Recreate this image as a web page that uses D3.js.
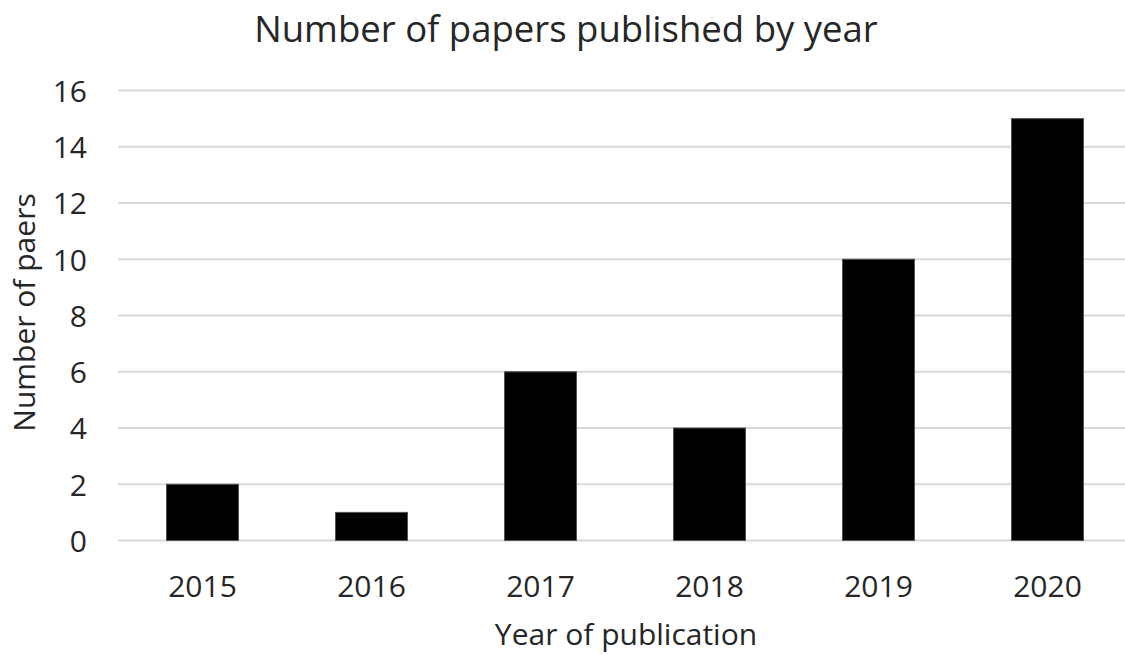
<!DOCTYPE html>
<html>
<head>
<meta charset="utf-8">
<script src="https://cdn.jsdelivr.net/npm/d3@7"></script>
<style>
  html, body { margin: 0; padding: 0; background: #fff; }
  svg { display: block; }
  text { font-family: "Open Sans", "Noto Sans", sans-serif; fill: #262626; }
</style>
</head>
<body>
<svg id="chart" width="1125" height="654"></svg>
<script>
// Papers published per year
const years = ["2015", "2016", "2017", "2018", "2019", "2020"];
const paperCounts = [2, 1, 6, 4, 10, 15];
const yTicks = [0, 2, 4, 6, 8, 10, 12, 14, 16];

const titleText = "Number of papers published by year";
const xTitle = "Year of publication";
const yTitle = "Number of paers";

const svg = d3.select("#chart");
const W = 1125, H = 654;
const plot = { left: 118, right: 1132, top: 90.5, bottom: 540.5 };
const fontStack = '"Open Sans", "Noto Sans", sans-serif';

const x = d3.scaleBand()
  .domain(years)
  .range([plot.left, plot.right])
  .paddingInner(0.574)
  .paddingOuter(0.287);

const y = d3.scaleLinear()
  .domain([0, 16])
  .range([plot.bottom, plot.top]);

// horizontal gridlines
svg.append("g")
  .selectAll("line")
  .data(yTicks)
  .join("line")
  .attr("x1", plot.left)
  .attr("x2", W)
  .attr("y1", d => y(d))
  .attr("y2", d => y(d))
  .attr("stroke", "#d9d9d9")
  .attr("stroke-width", 2);

// bars
svg.append("g")
  .selectAll("rect")
  .data(years.map((yr, i) => ({ yr, v: paperCounts[i] })))
  .join("rect")
  .attr("x", d => x(d.yr))
  .attr("width", x.bandwidth())
  .attr("y", d => y(d.v))
  .attr("height", d => y(0) - y(d.v))
  .attr("fill", "#000")
  .attr("stroke", "#555")
  .attr("stroke-width", 1);

// y axis (labels only)
const yAxis = d3.axisLeft(y).tickValues(yTicks).tickSize(0).tickPadding(31);
const gy = svg.append("g").attr("transform", `translate(${plot.left},0)`).call(yAxis);
gy.select(".domain").remove();
gy.selectAll("text")
  .style("font-family", fontStack)
  .style("font-size", "30px")
  .attr("dy", "0.36em")
  .attr("fill", "#262626");

// x axis (labels only)
const xAxis = d3.axisBottom(x).tickSize(0);
const gx = svg.append("g").attr("transform", `translate(0,${plot.bottom})`).call(xAxis);
gx.select(".domain").remove();
gx.selectAll("text")
  .style("font-family", fontStack)
  .style("font-size", "30px")
  .attr("y", 56)
  .attr("dy", null)
  .attr("fill", "#262626");

// titles
svg.append("text")
  .attr("x", 566).attr("y", 42)
  .attr("text-anchor", "middle")
  .style("font-size", "36.5px")
  .text(titleText);

svg.append("text")
  .attr("x", 626).attr("y", 645)
  .attr("text-anchor", "middle")
  .style("font-size", "30px")
  .text(xTitle);

svg.append("text")
  .attr("transform", "translate(35,312.5) rotate(-90)")
  .attr("text-anchor", "middle")
  .style("font-size", "30px")
  .text(yTitle);
</script>
</body>
</html>
